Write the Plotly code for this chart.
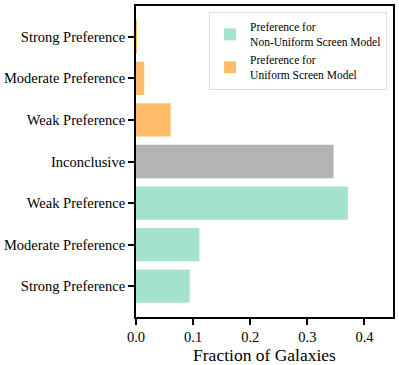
import plotly.graph_objects as go

categories = ["Strong Preference", "Moderate Preference", "Weak Preference", "Inconclusive",
              "Weak Preference", "Moderate Preference", "Strong Preference"]
positions = [0, 1, 2, 3, 4, 5, 6]

nonuniform_pos = [0, 1, 2]
nonuniform_vals = [0.094, 0.111, 0.371]
inconclusive_pos = [3]
inconclusive_vals = [0.346]
uniform_pos = [4, 5, 6]
uniform_vals = [0.0607, 0.0144, 0.0015]

font_family = "Liberation Serif"

fig = go.Figure()
fig.add_trace(go.Bar(y=nonuniform_pos, x=nonuniform_vals, orientation="h", width=0.8,
                     marker=dict(color="#a5e2cd", line=dict(width=0)),
                     name="Preference for<br>Non-Uniform Screen Model"))
fig.add_trace(go.Bar(y=uniform_pos, x=uniform_vals, orientation="h", width=0.8,
                     marker=dict(color="#ffbd6b", line=dict(width=0)),
                     name="Preference for<br>Uniform Screen Model"))
fig.add_trace(go.Bar(y=inconclusive_pos, x=inconclusive_vals, orientation="h", width=0.8,
                     marker=dict(color="#b3b3b3", line=dict(width=0)),
                     showlegend=False))

fig.update_layout(
    width=399, height=365,
    margin=dict(l=135, r=4, t=4, b=45),
    plot_bgcolor="white", paper_bgcolor="white",
    font=dict(family=font_family, size=14, color="black"),
    barmode="overlay",
    showlegend=True,
    legend=dict(x=0.977, y=0.981, xanchor="right", yanchor="top",
                bgcolor="rgba(255,255,255,0.9)", bordercolor="#dddddd", borderwidth=1,
                font=dict(family=font_family, size=11.5), tracegroupgap=0),
    xaxis=dict(range=[0, 0.45], tickvals=[0, 0.1, 0.2, 0.3, 0.4],
               ticktext=["0.0", "0.1", "0.2", "0.3", "0.4"],
               showgrid=False, zeroline=False, showline=True, linecolor="black", linewidth=2,
               mirror=True, ticks="outside", ticklen=6, tickwidth=1.5, tickcolor="black",
               tickfont=dict(size=14.5),
               title=dict(text="Fraction of Galaxies", font=dict(size=17.5), standoff=3)),
    yaxis=dict(range=[-0.74, 6.74], tickvals=positions, ticktext=categories,
               showgrid=False, zeroline=False, showline=True, linecolor="black", linewidth=2,
               mirror=True, ticks="outside", ticklen=6, tickwidth=1.5, tickcolor="black",
               tickfont=dict(size=14.5)),
)

fig.write_html("out.html", config={"displayModeBar": False},
               post_script="document.body.style.margin='0px';document.body.style.padding='0px';")
